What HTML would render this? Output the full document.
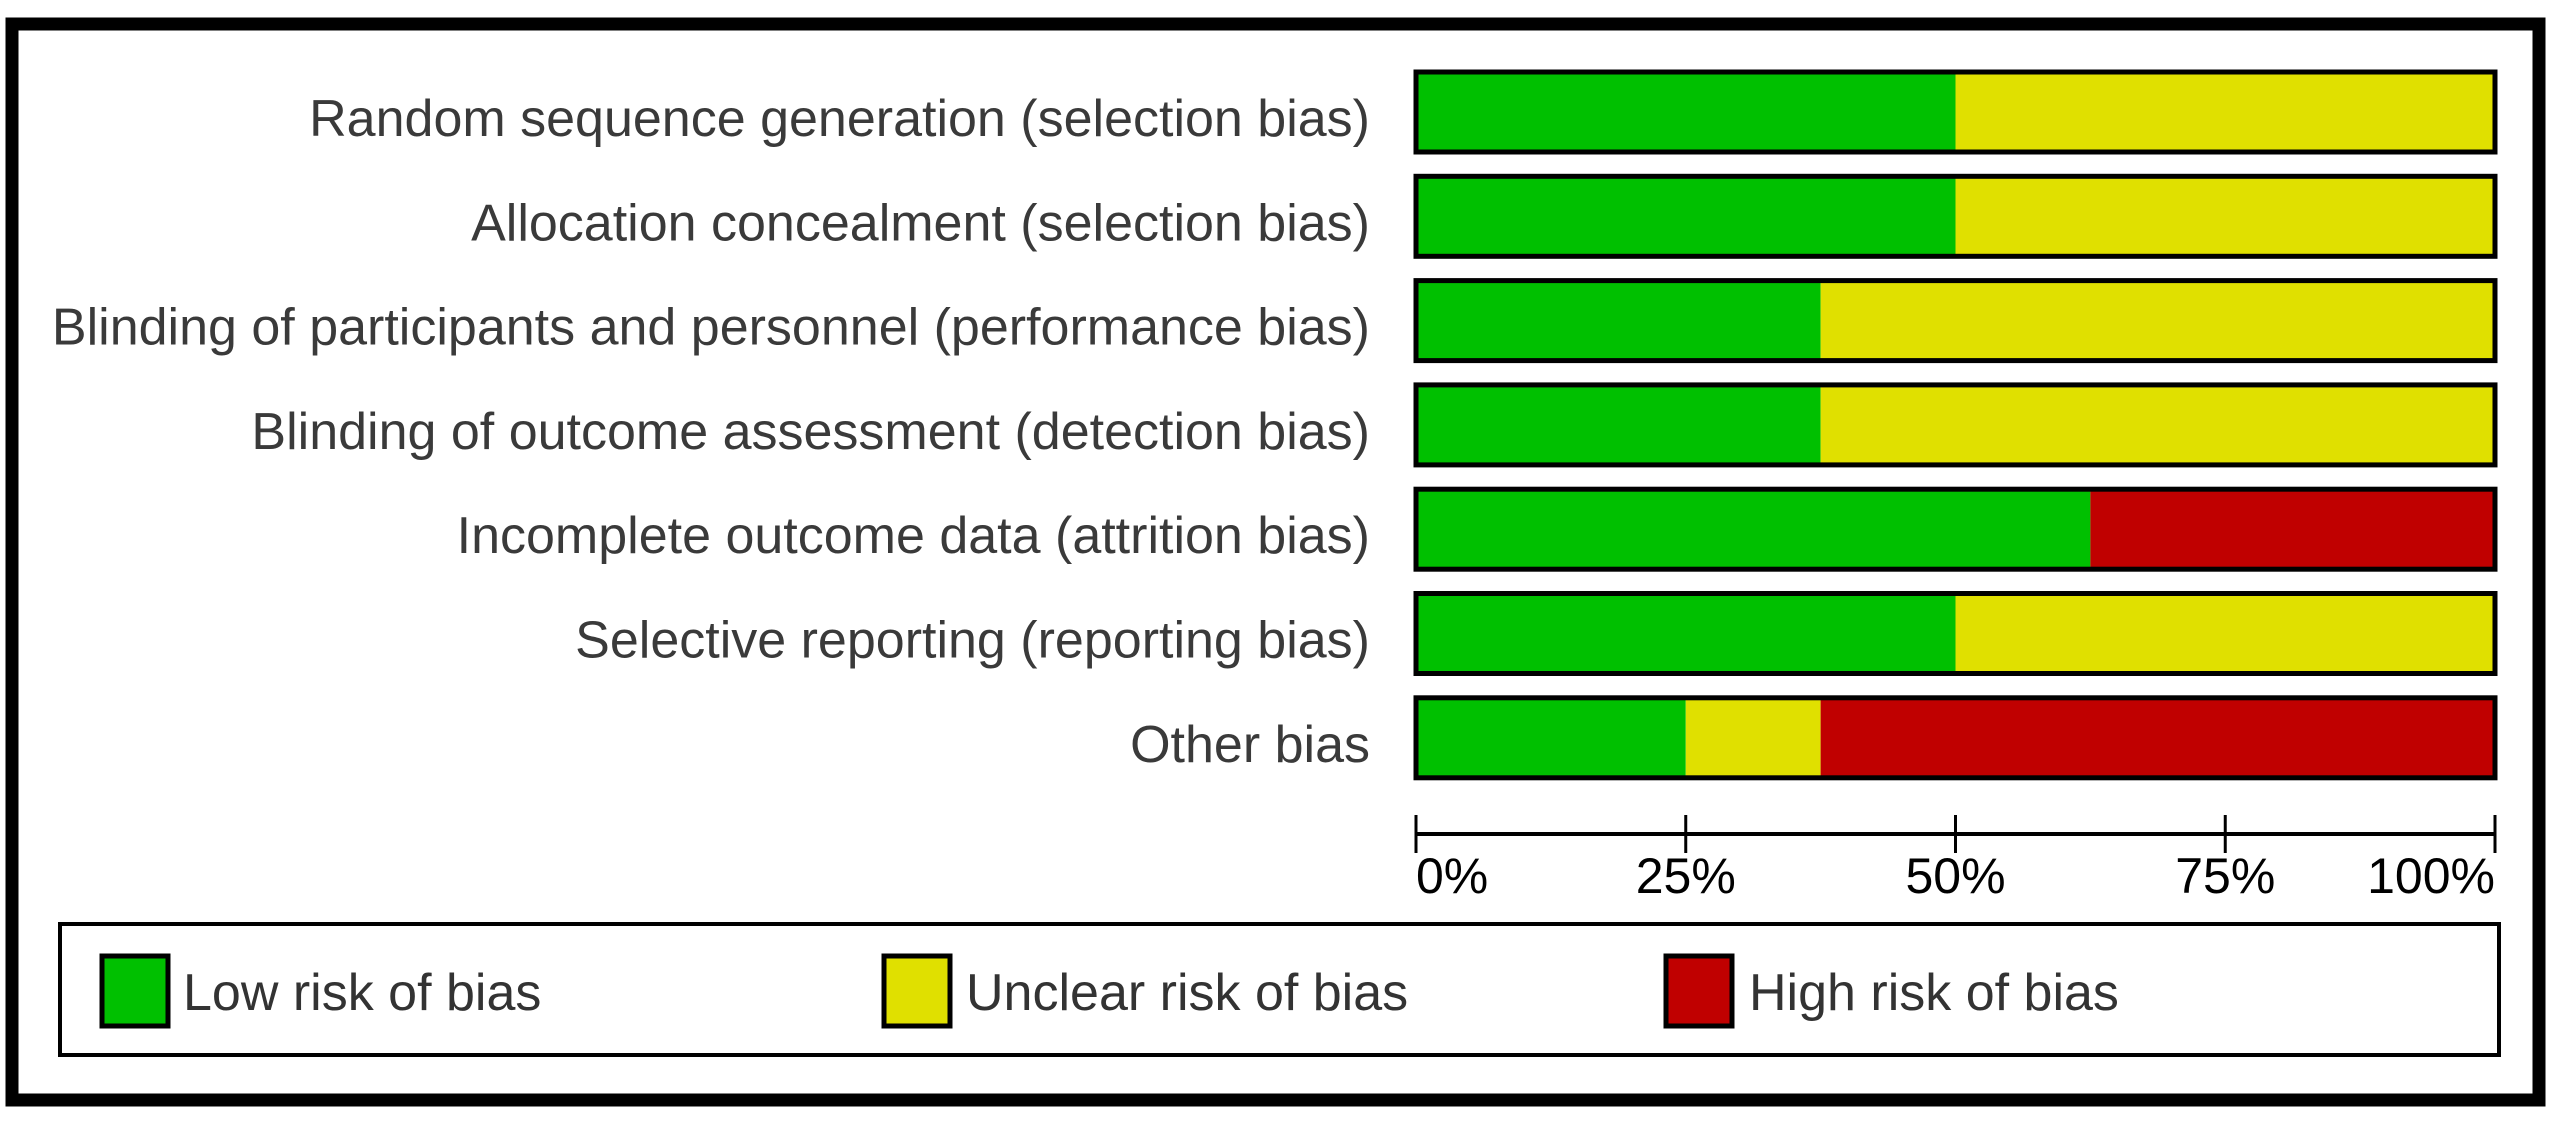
<!DOCTYPE html>
<html><head><meta charset="utf-8"><style>
html,body{margin:0;padding:0;background:#fff;}
svg{display:block;}
text{font-family:"Liberation Sans",Arial,sans-serif;}
</style></head><body>
<svg id="chart" width="2553" height="1126" viewBox="0 0 2553 1126" xmlns="http://www.w3.org/2000/svg">
<rect x="12" y="24" width="2527" height="1076" fill="#fff" stroke="#000" stroke-width="13"/>
<g id="bars"></g>
<g id="axis"></g>
<rect x="60" y="924" width="2439" height="131" fill="#fff" stroke="#000" stroke-width="4"/>
<g>
<rect x="102" y="956" width="66" height="70" fill="#00C000" stroke="#000" stroke-width="5"/>
<text x="183" y="1010" font-size="52" fill="#333">Low risk of bias</text></g>
<g>
<rect x="884" y="956" width="66" height="70" fill="#E0E000" stroke="#000" stroke-width="5"/>
<text x="966" y="1010" font-size="52" fill="#333">Unclear risk of bias</text></g>
<g>
<rect x="1666" y="956" width="66" height="70" fill="#C00000" stroke="#000" stroke-width="5"/>
<text x="1749" y="1010" font-size="52" fill="#333">High risk of bias</text></g>
</svg>
<script>
const categories=["Random sequence generation (selection bias)","Allocation concealment (selection bias)","Blinding of participants and personnel (performance bias)","Blinding of outcome assessment (detection bias)","Incomplete outcome data (attrition bias)","Selective reporting (reporting bias)","Other bias"];
const lowRisk=[50,50,37.5,37.5,62.5,50,25];
const unclearRisk=[50,50,62.5,62.5,0,50,12.5];
const highRisk=[0,0,0,0,37.5,0,62.5];
const tickValues=[0,25,50,75,100];
const tickLabels=["0%","25%","50%","75%","100%"];
const NS="http://www.w3.org/2000/svg";
const x0=1416,x1=2495;
function xScale(v){return x0+(x1-x0)*v/100;}
function yTop(i){return 72+104.3*i;}
const bh=80;
const bars=document.getElementById('bars');
function mk(tag,attrs){const e=document.createElementNS(NS,tag);for(const k in attrs)e.setAttribute(k,attrs[k]);return e;}
categories.forEach((c,i)=>{
  const y=yTop(i);
  const t=mk('text',{x:1370,y:y+bh/2+24,'font-size':52,fill:'#3a3a3a','text-anchor':'end'});
  
  
  t.textContent=c;bars.appendChild(t);
  const segs=[[lowRisk[i],'#00C000','low'],[unclearRisk[i],'#E0E000','unclear'],[highRisk[i],'#C00000','high']];
  let acc=0;
  segs.forEach(s=>{
    if(s[0]>0){
      const r=mk('rect',{x:xScale(acc),y:y,width:xScale(acc+s[0])-xScale(acc),height:bh,fill:s[1]});
      
      
      bars.appendChild(r);
    }
    acc+=s[0];
  });
  const o=mk('rect',{x:x0,y:y,width:x1-x0,height:bh,fill:'none',stroke:'#000','stroke-width':5});
  
  
  bars.appendChild(o);
});
const axis=document.getElementById('axis');
const al=mk('line',{x1:x0,x2:x1,y1:834,y2:834,stroke:'#000','stroke-width':4});


axis.appendChild(al);
tickValues.forEach((v,i)=>{
  const x=xScale(v);
  const l=mk('line',{x1:x,x2:x,y1:815,y2:853,stroke:'#000','stroke-width':3});
  
  
  axis.appendChild(l);
  const anchor=i===0?'start':(i===tickValues.length-1?'end':'middle');
  const t=mk('text',{x:x,y:893,'font-size':50,fill:'#000','text-anchor':anchor});
  
  
  t.textContent=tickLabels[i];axis.appendChild(t);
});
</script>
</body></html>
